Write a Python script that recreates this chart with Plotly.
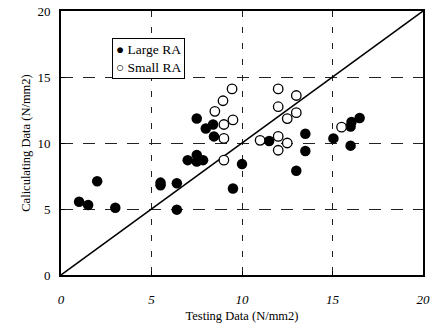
import plotly.graph_objects as go

large_x = [1.0, 1.5, 2.0, 3.0, 5.5, 5.5, 6.4, 6.4, 7.0, 7.5, 7.5, 7.85, 7.5, 8.0, 8.4, 8.45,
           10.0, 9.5, 11.5, 13.5, 13.5, 13.0, 15.05, 16.0, 16.0, 16.05, 16.5]
large_y = [5.55, 5.3, 7.1, 5.1, 6.8, 7.0, 6.95, 4.95, 8.7, 9.1, 8.6, 8.7, 11.85, 11.1, 11.4, 10.5,
           8.4, 6.55, 10.15, 10.7, 9.4, 7.9, 10.35, 9.8, 11.25, 11.6, 11.9]

small_x = [9.45, 8.95, 8.5, 9.5, 9.0, 9.0, 9.0, 11.0, 12.0, 13.0, 12.0, 13.0, 12.5, 12.0, 12.5, 12.0, 15.5]
small_y = [14.1, 13.2, 12.4, 11.75, 11.4, 10.35, 8.7, 10.2, 14.1, 13.6, 12.75, 12.3, 11.85, 10.5, 10.0, 9.45, 11.2]

line_x = [0, 20]
line_y = [0, 20]
ticks = [0, 5, 10, 15, 20]
legend_labels = ["Large RA", "Small RA"]

serif = "Liberation Serif, Times New Roman, serif"

fig = go.Figure()
fig.add_trace(go.Scatter(x=line_x, y=line_y, mode="lines",
                         line=dict(color="black", width=1.5), showlegend=False, hoverinfo="skip"))
fig.add_trace(go.Scatter(x=large_x, y=large_y, mode="markers", name=legend_labels[0], showlegend=False,
                         marker=dict(size=10.5, color="black", line=dict(width=0))))
fig.add_trace(go.Scatter(x=small_x, y=small_y, mode="markers", name=legend_labels[1], showlegend=False,
                         marker=dict(size=9.5, color="white", line=dict(width=1.3, color="black"))))

axis_common = dict(range=[0, 20], tickvals=ticks, showline=True, linecolor="black", linewidth=2,
                   mirror=True, ticks="inside", ticklen=4, tickcolor="black",
                   showgrid=True, gridcolor="#222", gridwidth=1,
                   zeroline=False, automargin=False)

fig.update_xaxes(**axis_common, griddash="6px,10px", ticklabelstandoff=11,
                 tickfont=dict(family=serif, size=13, color="black", style="italic"),
                 title=dict(text="Testing Data (N/mm2)", font=dict(family=serif, size=12.5, color="black"),
                            standoff=6))
fig.update_yaxes(**axis_common, griddash="12px,10px", ticklabelstandoff=6,
                 tickfont=dict(family=serif, size=13, color="black"),
                 title=dict(text="Caliculating Data (N/mm2)", font=dict(family=serif, size=12.5, color="black"),
                            standoff=4))

fig.add_annotation(
    xref="paper", yref="paper", x=0.1409, y=0.8977, xanchor="left", yanchor="top",
    text="● " + legend_labels[0] + "<br>○ " + legend_labels[1],
    showarrow=False, align="left",
    font=dict(family=serif, size=13.5, color="black"),
    bordercolor="black", borderwidth=1, borderpad=3, bgcolor="white",
)

fig.update_layout(
    width=439, height=324,
    margin=dict(l=61, r=16, t=11, b=49),
    paper_bgcolor="white", plot_bgcolor="white",
    showlegend=False,
)

fig.write_html("out.html", config={"displayModeBar": False},
               post_script="document.body.style.margin='0';document.body.style.padding='0';document.body.style.overflow='hidden';")
